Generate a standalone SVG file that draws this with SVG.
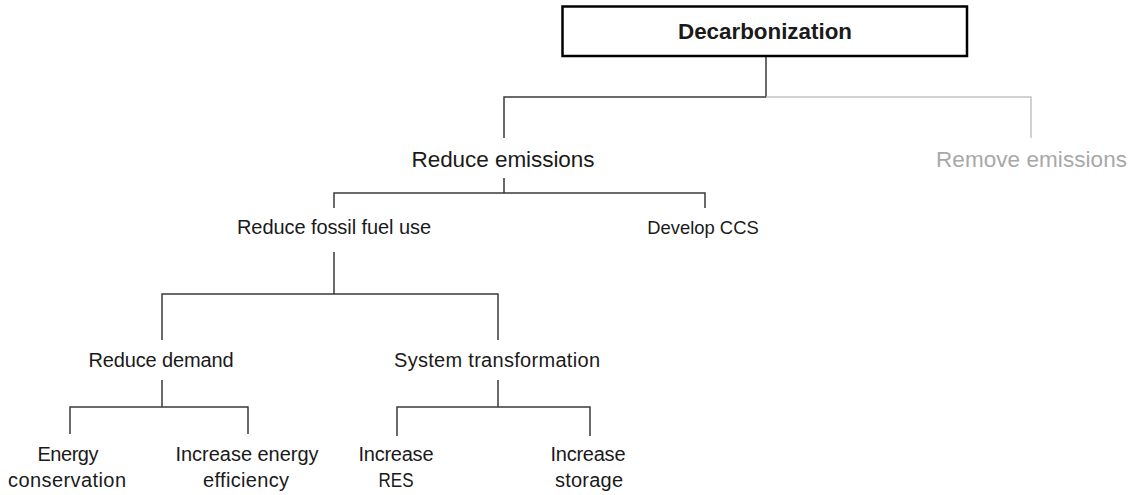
<svg xmlns="http://www.w3.org/2000/svg" width="1132" height="495" viewBox="0 0 1132 495">
<style>
text{font-family:"Liberation Sans",Arial,sans-serif;fill:#1a1a1a;text-anchor:middle}
.l1{font-size:22.5px}
.l2{font-size:20px}
.title{font-size:22.4px;font-weight:bold}
.grey{fill:#a8a8a8}
.c{stroke:#3a3a3a;stroke-width:1.5;fill:none}
.cg{stroke:#c4c4c4;stroke-width:1.5;fill:none}
</style>
<rect width="1132" height="495" fill="#ffffff"/>
<g id="connectors">
<path class="c" d="M766,56V97H504V138"/>
<path class="cg" d="M766,97H1031V138"/>
<path class="c" d="M504,178V193M334,208V193H705V208"/>
<path class="c" d="M334,252V294M162,340V294H498V340"/>
<path class="c" d="M162,380V407M70,434V407H248V434"/>
<path class="c" d="M498,380V407M397,436V407H590V436"/>
</g>
<g id="decarbonization">
<rect x="562.5" y="6.5" width="404.5" height="49.5" fill="#ffffff" stroke="#000000" stroke-width="2.5"/>
<text class="title" x="765" y="39" textLength="174" lengthAdjust="spacing">Decarbonization</text>
</g>
<g id="reduce-emissions">
<text class="l1" x="503" y="167" textLength="183" lengthAdjust="spacing">Reduce emissions</text>
</g>
<g id="remove-emissions">
<text class="l1 grey" x="1031.5" y="167" textLength="191" lengthAdjust="spacing">Remove emissions</text>
</g>
<g id="reduce-fossil">
<text class="l2" x="334" y="234" textLength="194" lengthAdjust="spacing">Reduce fossil fuel use</text>
</g>
<g id="develop-ccs">
<text class="l2" x="703" y="234" style="font-size:18.4px">Develop CCS</text>
</g>
<g id="reduce-demand">
<text class="l2" x="161" y="367" textLength="145" lengthAdjust="spacing">Reduce demand</text>
</g>
<g id="system-transformation">
<text class="l2" x="497" y="367" textLength="206" lengthAdjust="spacing">System transformation</text>
</g>
<g id="energy-conservation">
<text class="l2" x="68" y="461" textLength="61" lengthAdjust="spacing">Energy</text>
<text class="l2" x="67" y="487" textLength="118" lengthAdjust="spacing">conservation</text>
</g>
<g id="increase-efficiency">
<text class="l2" x="247" y="461" textLength="143" lengthAdjust="spacing">Increase energy</text>
<text class="l2" x="246" y="487" textLength="86" lengthAdjust="spacing">efficiency</text>
</g>
<g id="increase-res">
<text class="l2" x="396" y="461" textLength="75" lengthAdjust="spacing">Increase</text>
<text class="l2" x="396" y="487" textLength="35" lengthAdjust="spacingAndGlyphs">RES</text>
</g>
<g id="increase-storage">
<text class="l2" x="588" y="461" textLength="75" lengthAdjust="spacing">Increase</text>
<text class="l2" x="589" y="487" textLength="68" lengthAdjust="spacing">storage</text>
</g>
</svg>
